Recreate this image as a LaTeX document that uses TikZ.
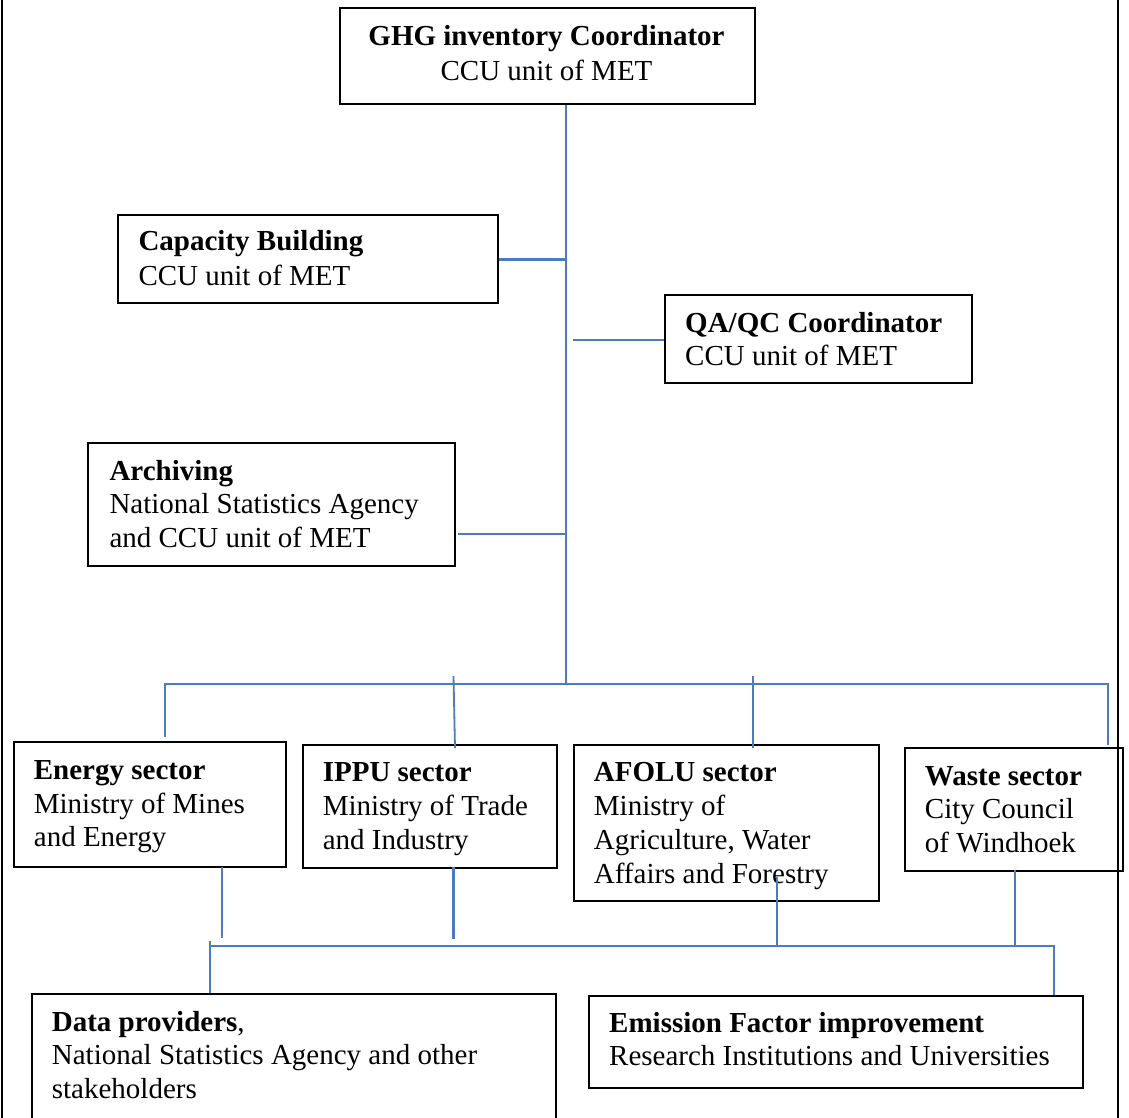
\documentclass[tikz,border=0pt]{standalone}
\usepackage{fontspec}
\setmainfont{Liberation Serif}
\definecolor{linkblue}{RGB}{74,126,187}
\begin{document}
\begin{tikzpicture}[x=1pt,y=-1pt,
  box/.style={draw=black, line width=2.4pt, anchor=north west, inner sep=0pt},
  txt/.style={anchor=north west, inner sep=0pt, align=left, font=\fontsize{29}{33.7}\selectfont},
  conn/.style={draw=linkblue, line width=2.8pt},
  frame/.style={draw=black, line width=2.2pt}]
\useasboundingbox (0,0) rectangle (1129,1117);
% outer frame (left and right sides visible)
\coordinate (fl1) at (2,-10); \coordinate (fl2) at (2,1130);
\coordinate (fr1) at (1118,-10); \coordinate (fr2) at (1118,1130);
\draw[frame] (fl1) -- (fl2);
\draw[frame] (fr1) -- (fr2);
% boxes
\node[box, minimum width=415pt, minimum height=96pt] (ghg) at (339,7) {};
\node[box, minimum width=380pt, minimum height=88pt] (cap) at (117,214) {};
\node[box, minimum width=307pt, minimum height=88pt] (qa) at (664,294) {};
\node[box, minimum width=367pt, minimum height=123pt] (arc) at (87,442) {};
\node[box, minimum width=272.4pt, minimum height=125pt] (en) at (12.6,741) {};
\node[box, minimum width=254pt, minimum height=123pt] (ip) at (301.6,744) {};
\node[box, minimum width=304.5pt, minimum height=156pt] (af) at (573,744) {};
\node[box, minimum width=218pt, minimum height=123pt] (wa) at (904,747) {};
\node[box, minimum width=524.4pt, minimum height=150pt] (da) at (30.6,993) {};
\node[box, minimum width=494pt, minimum height=92pt] (em) at (588,995) {};
% texts
\node[txt, anchor=north, align=center, font=\fontsize{29}{35}\selectfont] (ghgT) at (546.5,21.2) {\strut\textbf{GHG inventory Coordinator}\\CCU unit of MET};
\node[txt, font=\fontsize{29}{35}\selectfont] (capT) at (138.3,226.2) {\strut\textbf{Capacity Building}\\CCU unit of MET};
\node[txt, font=\fontsize{29}{33}\selectfont] (qaT) at (685,309.2) {\strut\textbf{QA/QC Coordinator}\\CCU unit of MET};
\node[txt] (arcT) at (109.3,456.4) {\strut\textbf{Archiving}\\National Statistics Agency\\and CCU unit of MET};
\node[txt] (enT) at (33.7,755.7) {\strut\textbf{Energy sector}\\Ministry of Mines\\and Energy};
\node[txt] (ipT) at (322.6,758.1) {\strut\textbf{IPPU sector}\\Ministry of Trade\\and Industry};
\node[txt] (afT) at (593.7,758.1) {\strut\textbf{AFOLU sector}\\Ministry of\\Agriculture, Water\\Affairs and Forestry};
\node[txt] (waT) at (924.7,761.4) {\strut\textbf{Waste sector}\\City Council\\of Windhoek};
\node[txt] (daT) at (51.7,1007.4) {\strut\textbf{Data providers},\\National Statistics Agency and other\\stakeholders};
\node[txt] (emT) at (609,1008.4) {\strut\textbf{Emission Factor improvement}\\Research Institutions and Universities};
% upper connectors
\coordinate (trunk) at (566,684);
\draw[conn] (ghg.south -| trunk) -- (trunk);
\draw[conn] (cap.east) -- (cap.east -| trunk);
\coordinate (qas) at (573,340);
\draw[conn] (qas) -- (qas -| qa.west);
\coordinate (arcs) at (458,534);
\draw[conn] (arcs) -- (arcs -| trunk);
% upper bus
\coordinate (busL) at (165,684);
\coordinate (busR) at (1108,684);
\coordinate (enIn) at (165,737);
\coordinate (ipTop) at (453.5,676);
\coordinate (ipIn) at (455,748);
\coordinate (afTop) at (753,676);
\coordinate (afIn) at (753,748);
\coordinate (waIn) at (1108,745);
\draw[conn] (enIn) -- (busL) -- (busR) -- (waIn);
\draw[conn, line width=1.8pt] (ipTop) -- (ipIn);
\draw[conn] (afTop) -- (afIn);
% lower connectors
\coordinate (enOut) at (222,867);
\coordinate (enBus) at (222,938);
\coordinate (ipOut) at (453.5,867);
\coordinate (ipBus) at (453.5,939);
\coordinate (afOut) at (777,877);
\coordinate (afBus) at (777,946);
\coordinate (waOut) at (1015,870);
\coordinate (waBus) at (1015,946);
\draw[conn] (enOut) -- (enBus);
\draw[conn] (ipOut) -- (ipBus);
\draw[conn] (afOut) -- (afBus);
\draw[conn] (waOut) -- (waBus);
% lower bus
\coordinate (lbTick) at (210,941);
\coordinate (lbL) at (210,946);
\coordinate (lbR) at (1054,946);
\draw[conn] (lbTick) -- (lbTick |- da.north);
\draw[conn] (lbL) -- (lbR) -- (lbR |- em.north);
\end{tikzpicture}
\end{document}
